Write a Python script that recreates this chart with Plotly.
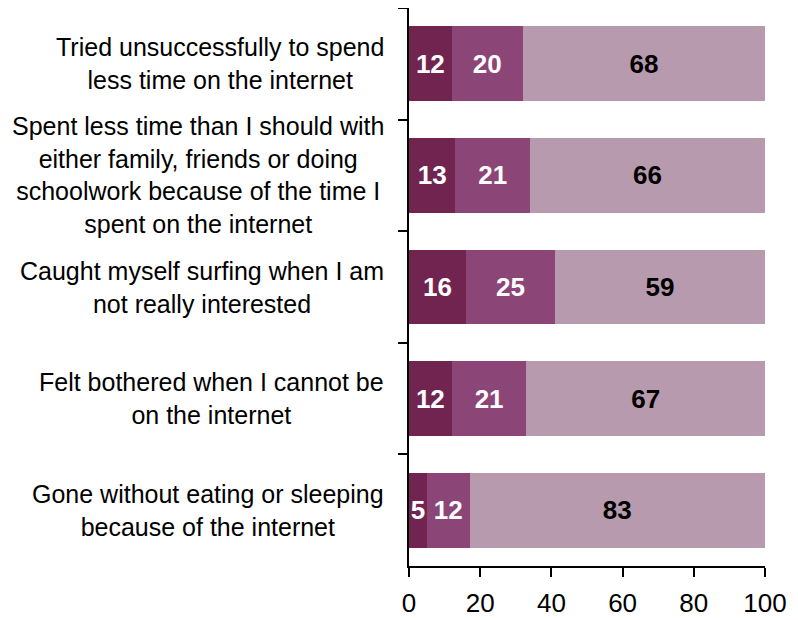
import plotly.graph_objects as go

categories = [
    "Tried unsuccessfully to spend<br>less time on the internet",
    "Spent less time than I should with<br>either family, friends or doing<br>schoolwork because of the time I<br>spent on the internet",
    "Caught myself surfing when I am<br>not really interested",
    "Felt bothered when I cannot be<br>on the internet",
    "Gone without eating or sleeping<br>because of the internet",
]
series1 = [12, 13, 16, 12, 5]
series2 = [20, 21, 25, 21, 12]
series3 = [68, 66, 59, 67, 83]
xticks = [0, 20, 40, 60, 80, 100]

ids = ["c%d" % i for i in range(len(categories))]
colors = ["#70244F", "#8C4577", "#B79AAE"]
txtcol = ["white", "white", "black"]

fig = go.Figure()
for vals, c, tc in zip([series1, series2, series3], colors, txtcol):
    fig.add_trace(go.Bar(
        y=ids, x=vals, orientation="h", marker=dict(color=c, line=dict(width=0)),
        text=[str(v) for v in vals], textposition="inside", insidetextanchor="middle",
        constraintext="none",
        textfont=dict(family="Liberation Sans, Arial", size=26, color=tc, weight="bold"),
        showlegend=False, hoverinfo="skip",
    ))

for cid, lab in zip(ids, categories):
    fig.add_annotation(x=0, xref="paper", y=cid, yref="y", text=lab, showarrow=False,
                       xanchor="right", align="center", xshift=-23,
                       font=dict(family="Liberation Sans, Arial", size=25, color="black"))

fig.update_layout(
    barmode="stack", bargap=0.33,
    width=798, height=620,
    margin=dict(l=401, r=41, t=0, b=62),
    paper_bgcolor="white", plot_bgcolor="white",
    font=dict(family="Liberation Sans, Arial", size=26, color="black"),
)
fig.update_xaxes(range=[0, 100], tickvals=xticks, ticks="outside", ticklen=9, tickwidth=1.5,
                 tickcolor="black", showline=True, linecolor="black", linewidth=1.5,
                 showgrid=False, zeroline=False, tickfont=dict(size=26), ticklabelstandoff=4)
fig.update_yaxes(categoryorder="array", categoryarray=ids, autorange="reversed",
                 tickson="boundaries", ticks="outside", ticklen=9, tickwidth=1.5, tickcolor="black",
                 showticklabels=False, showline=True, linecolor="black", linewidth=1.5,
                 showgrid=False, zeroline=False)

fig.write_html("out.html")
